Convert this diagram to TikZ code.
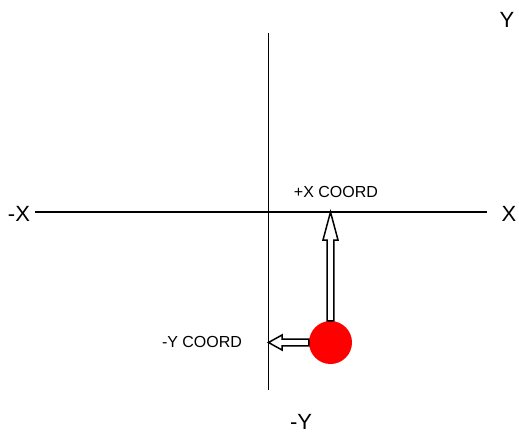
\documentclass[tikz,border=0pt]{standalone}
\usepackage{fontspec}
\setmainfont{Liberation Sans}
\begin{document}
\begin{tikzpicture}[x=1pt,y=-1pt,
  axis/.style={line width=1.6pt,black},
  biglabel/.style={font=\fontsize{22}{24}\selectfont,inner sep=0pt},
  smalllabel/.style={font=\fontsize{16}{18}\selectfont,inner sep=0pt},
  hollowarrow/.style={draw=black,fill=white,line width=1.5pt,line join=miter},
  ballstyle/.style={circle,fill=red,minimum size=43pt,inner sep=0pt}]
\useasboundingbox (0,0) rectangle (519,436);
% axes
\coordinate (ytop) at (268.5,33);
\coordinate (ybot) at (268.5,390);
\coordinate (xleft) at (35,212);
\coordinate (xright) at (487,212);
\draw[axis] (ytop) -- (ybot);
\draw[axis] (xleft) -- (xright);
% labels
\node[biglabel] (ly) at (507,20) {Y};
\node[biglabel] (lx) at (509,214) {X};
\node[biglabel] (lmx) at (19,214) {-X};
\node[biglabel] (lmy) at (301,422) {-Y};
\node[smalllabel] (lpxc) at (336,192) {+X COORD};
\node[smalllabel] (lmyc) at (202,342) {-Y COORD};
% ball
\node[ballstyle] (ball) at (330.5,342.5) {};
% vertical hollow arrow from ball up to x-axis
\coordinate (vtip) at (330.5,212);
\draw[hollowarrow] ([xshift=-3.3pt]ball.north) -- ([xshift=-3.3pt]vtip |- 0,240)
  -- ([xshift=-7.5pt]vtip |- 0,240) -- (vtip) -- ([xshift=7.5pt]vtip |- 0,240)
  -- ([xshift=3.3pt]vtip |- 0,240) -- ([xshift=3.3pt]ball.north) -- cycle;
% horizontal hollow arrow from ball left to y-axis
\coordinate (htip) at (268.5,342.5);
\draw[hollowarrow] ([yshift=-3.3pt]ball.west) -- ([yshift=-3.3pt]282,0 |- htip)
  -- ([yshift=-7.5pt]282,0 |- htip) -- (htip) -- ([yshift=7.5pt]282,0 |- htip)
  -- ([yshift=3.3pt]282,0 |- htip) -- ([yshift=3.3pt]ball.west) -- cycle;
\end{tikzpicture}
\end{document}
